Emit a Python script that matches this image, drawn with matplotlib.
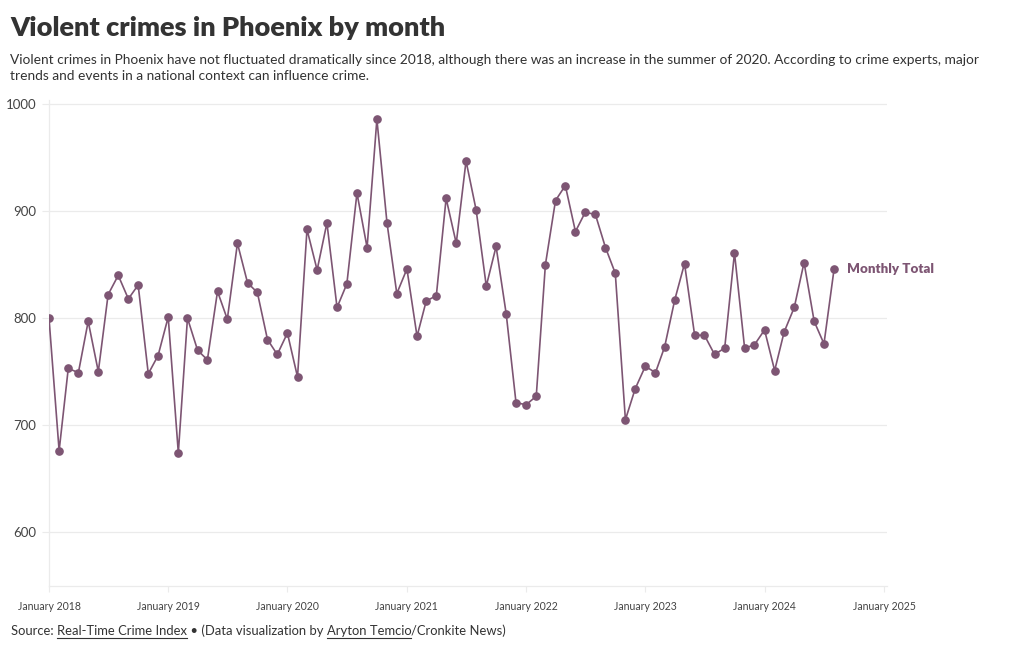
import pandas as pd
import matplotlib.pyplot as plt
import matplotlib.dates as mdates

# Violent crimes per month in Phoenix, Jan 2018 - Aug 2024
inicio = '2018-01-01'
totais = [800, 676, 753, 749, 797, 750, 822, 840, 818, 831, 748, 765,
          801, 674, 800, 770, 761, 825, 799, 870, 833, 824, 780, 766,
          786, 745, 883, 845, 889, 810, 832, 917, 866, 986, 889, 823,
          846, 783, 816, 821, 912, 870, 947, 901, 830, 867, 804, 721,
          719, 727, 850, 910, 924, 881, 899, 897, 866, 842, 705, 734,
          755, 749, 773, 817, 851, 784, 784, 766, 772, 861, 772, 775,
          789, 751, 787, 810, 852, 797, 776, 846]
meses = pd.date_range(inicio, periods=len(totais), freq='MS')
anos_ticks = pd.date_range('2018-01-01', '2025-01-01', freq='YS')
y_ticks = [600, 700, 800, 900, 1000]

titulo = 'Violent crimes in Phoenix by month'
subtitulo = ('Violent crimes in Phoenix have not fluctuated dramatically since 2018, although there was an increase in the summer of 2020. According to crime experts, major\n'
             'trends and events in a national context can influence crime.')
rotulo_serie = 'Monthly Total'

cor = '#7d5573'
cor_texto = '#333333'
cor_grade = '#ebebeb'
plt.rcParams['font.family'] = ['Lato', 'DejaVu Sans']

fig = plt.figure(figsize=(10.2, 6.5), dpi=100)
ax = fig.add_axes([49/1020, (650-586)/650, (887-49)/1020, (586-100)/650])

ax.plot(meses, totais, color=cor, lw=1.2, marker='o', ms=5.2, zorder=3)
ax.set_xlim(pd.Timestamp('2018-01-01'), pd.Timestamp('2025-01-10'))
ax.set_ylim(549.5, 1004)

ax.set_yticks(y_ticks)
ax.set_yticklabels([str(v) for v in y_ticks])
ax.set_xticks(anos_ticks)
ax.xaxis.set_major_formatter(mdates.DateFormatter('January %Y'))
ax.grid(axis='y', color=cor_grade, lw=0.9)
ax.set_axisbelow(True)
for lado in ['top', 'right']:
    ax.spines[lado].set_visible(False)
for lado in ['left', 'bottom']:
    ax.spines[lado].set_color(cor_grade)
    ax.spines[lado].set_linewidth(0.9)
ax.tick_params(axis='y', length=5, color=cor_grade, labelsize=9.5,
               labelcolor='#444444', pad=4)
ax.tick_params(axis='x', length=4, color=cor_grade, labelsize=7.6,
               labelcolor='#444444', pad=7)

ax.annotate(rotulo_serie, xy=(meses[-1], totais[-1]), xytext=(9, 0),
            textcoords='offset points', va='center', ha='left',
            fontsize=9.6, fontweight='heavy', color=cor)

fig.text(10/1020, 1 - 28/650, titulo, fontsize=19.5, fontweight='heavy',
         color=cor_texto, va='center', ha='left')
fig.text(10/1020, 1 - 68/650, subtitulo, fontsize=9.9, color=cor_texto,
         va='center', ha='left', linespacing=1.35)

# rodapé com trechos sublinhados
pedacos = [('Source: ', False), ('Real-Time Crime Index', True),
           (' \u2022 (Data visualization by ', False), ('Aryton Temcio', True),
           ('/Cronkite News)', False)]
fig.canvas.draw()
renderer = fig.canvas.get_renderer()
x_px = 11
y_px = 650 - 631
for texto, sublinhado in pedacos:
    t = fig.text(x_px/1020, y_px/650, texto, fontsize=9.4, color=cor_texto,
                 va='center', ha='left')
    bb = t.get_window_extent(renderer)
    if sublinhado:
        fig.add_artist(plt.Line2D([bb.x0/1020, bb.x1/1020],
                                  [(y_px - 7)/650, (y_px - 7)/650],
                                  transform=fig.transFigure, color=cor_texto, lw=0.8))
    x_px = bb.x1

fig.savefig('out.png', dpi=100)
